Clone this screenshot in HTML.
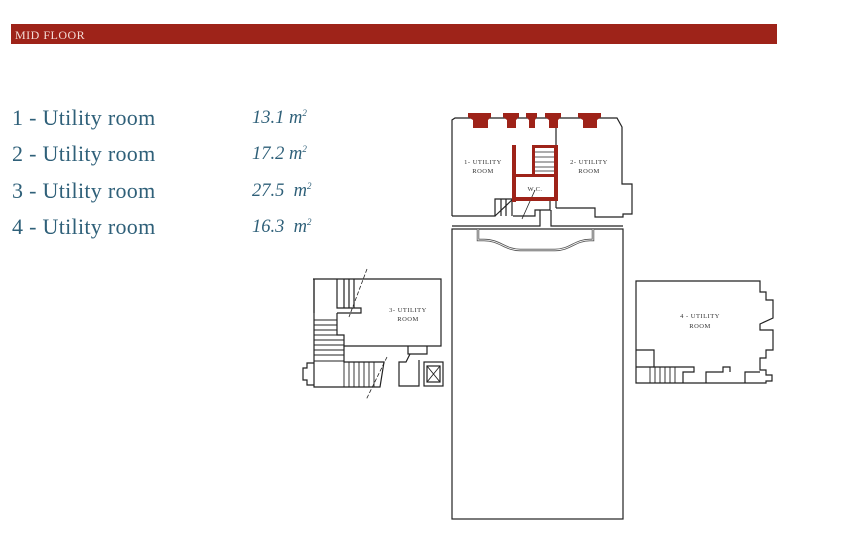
<!DOCTYPE html>
<html><head><meta charset="utf-8"><style>
body{margin:0;background:#fff;width:844px;height:556px;overflow:hidden;position:relative;font-family:"Liberation Serif",serif}
.bar{position:absolute;left:11px;top:24px;width:766px;height:20px;background:#9e2319;color:#f3dcd6;font-size:12px;line-height:22px;padding-left:4px;box-sizing:border-box;letter-spacing:0.5px}
.row{position:absolute;left:12px;font-size:22px;color:#2f6079;letter-spacing:0.3px}
.a{position:absolute;left:252px;font-size:18.5px;font-style:italic;color:#2f6079}
sup{font-size:9px}
svg{position:absolute;left:0;top:0}
</style></head><body>
<div class="bar">MID FLOOR</div>
<div class="row" style="top:105px">1 - Utility room</div><div class="a" style="top:108px">13.1 m<sup>2</sup></div>
<div class="row" style="top:141px">2 - Utility room</div><div class="a" style="top:144px">17.2 m<sup>2</sup></div>
<div class="row" style="top:178px">3 - Utility room</div><div class="a" style="top:181px">27.5&nbsp; m<sup>2</sup></div>
<div class="row" style="top:214px">4 - Utility room</div><div class="a" style="top:217px">16.3&nbsp; m<sup>2</sup></div>
<svg width="844" height="556" viewBox="0 0 844 556" fill="none" stroke="#222" stroke-width="1.2">
<!-- top block -->
<path d="M452 216 V120 L455 118 H617 L622 127 V184 L632 184 V214 L623 214 V217 H595 V208 H556"/>
<line x1="556" y1="118" x2="556" y2="208"/>
<path d="M452 216 H495 V199 H513"/>
<path d="M495 216 L513 199"/>
<line x1="501" y1="199" x2="501" y2="216"/><line x1="506" y1="199" x2="506" y2="216"/><line x1="512" y1="199" x2="512" y2="216"/>
<path d="M513 216 H535 V210 H550 V199"/>
<line x1="522" y1="219" x2="535" y2="190" stroke-width="0.8"/>
<path d="M452 226 H540 V210 M551 210 V226 H623"/>
<!-- red -->
<g fill="#9e2319" stroke="none">
<rect x="512" y="145" width="4" height="57"/><rect x="512" y="197" width="46" height="4"/><rect x="554" y="145" width="4" height="56"/>
<rect x="532" y="145" width="24" height="3"/><rect x="532" y="145" width="3" height="31"/><rect x="512" y="174" width="44" height="3"/>
<path d="M468 113 H491 V117 L488 120 V128 H473 V120 L468 117Z"/>
<path d="M503 113 H519 V117 L516 120 V128 H507 V120 L503 117Z"/>
<path d="M526 113 H537 V117 L535 120 V128 H529 V120 L526 117Z"/>
<path d="M545 113 H561 V117 L558 120 V128 H549 V120 L545 117Z"/>
<path d="M578 113 H601 V117 L597 120 V128 H583 V120 L578 117Z"/>
</g>
<g stroke="#222" stroke-width="0.8"><line x1="535" y1="152" x2="554" y2="152"/><line x1="535" y1="157" x2="554" y2="157"/><line x1="535" y1="162" x2="554" y2="162"/><line x1="535" y1="167" x2="554" y2="167"/><line x1="535" y1="171" x2="554" y2="171"/></g>
<!-- big rect -->
<rect x="452" y="229" width="171" height="290"/>
<path d="M478 229 V240 H484 C500 240 505 250 520 250 H555 C570 250 575 240 590 240 H593 V229" stroke-width="2.5" stroke="#555"/>
<path d="M478 229 V240 H484 C500 240 505 250 520 250 H555 C570 250 575 240 590 240 H593 V229" stroke-width="0.8" stroke="#fff"/>
<!-- left block -->
<path d="M313 279 H441 V346 H344 V335 H337 V313 M314 313 V279"/>
<path d="M337 279 V308 H361 V313 H337"/>
<line x1="344" y1="279" x2="344" y2="308"/><line x1="349" y1="279" x2="349" y2="308"/><line x1="354" y1="279" x2="354" y2="308"/>
<path d="M314 279 V387 H380 L384 362 H344 V346"/>
<g stroke-width="0.9"><line x1="314" y1="320" x2="337" y2="320"/><line x1="314" y1="325" x2="337" y2="325"/><line x1="314" y1="330" x2="337" y2="330"/><line x1="314" y1="335" x2="337" y2="335"/><line x1="314" y1="340" x2="344" y2="340"/><line x1="314" y1="345" x2="344" y2="345"/><line x1="314" y1="350" x2="344" y2="350"/><line x1="314" y1="355" x2="344" y2="355"/><line x1="314" y1="361" x2="344" y2="361"/>
<line x1="344" y1="362" x2="344" y2="387"/><line x1="349" y1="362" x2="349" y2="387"/><line x1="354" y1="362" x2="354" y2="387"/><line x1="359" y1="362" x2="359" y2="387"/><line x1="364" y1="362" x2="364" y2="387"/><line x1="369" y1="362" x2="369" y2="387"/><line x1="374" y1="362" x2="374" y2="387"/></g>
<path d="M314 363 H307 V368 H303 V380 H307 V385 H314"/>
<line x1="367" y1="269" x2="349" y2="317" stroke-dasharray="4,2" stroke-width="0.8"/>
<line x1="387" y1="357" x2="366" y2="400" stroke-dasharray="4,2" stroke-width="0.8"/>
<path d="M408 346 V354 H427 V346"/>
<path d="M410 354 L406 362 H399 V386 H419 V360"/>
<rect x="424" y="362" width="19" height="24"/><rect x="427" y="366" width="13" height="16"/>
<path d="M427 366 L440 382 M440 366 L427 382" stroke-width="0.9"/>
<!-- right block -->
<path d="M636 281 H760 V292 H766 V300 H773 V318 L760 324 V330 H773 V350 H766 V358 H760 V370 H766 V375 H772 V381 H766 V383 H636 Z"/>
<path d="M636 350 H654 V367 H694 V372 H683 V383 M706 383 V372 H723 V367 H730 V372 M745 383 V372 H760"/>
<path d="M636 367 H654"/>
<g stroke-width="0.9"><line x1="650" y1="367" x2="650" y2="383"/><line x1="655" y1="367" x2="655" y2="383"/><line x1="660" y1="367" x2="660" y2="383"/><line x1="665" y1="367" x2="665" y2="383"/><line x1="670" y1="367" x2="670" y2="383"/><line x1="675" y1="367" x2="675" y2="383"/></g>
<g font-family="Liberation Serif,serif" font-size="6.5" fill="#333" stroke="none" text-anchor="middle" letter-spacing="0.5">
<text x="483" y="164">1- UTILITY</text><text x="483" y="173">ROOM</text>
<text x="589" y="164">2- UTILITY</text><text x="589" y="173">ROOM</text>
<text x="535" y="191">W.C.</text>
<text x="408" y="312">3- UTILITY</text><text x="408" y="321">ROOM</text>
<text x="700" y="318">4 - UTILITY</text><text x="700" y="328">ROOM</text>
</g>
</svg>
</body></html>
